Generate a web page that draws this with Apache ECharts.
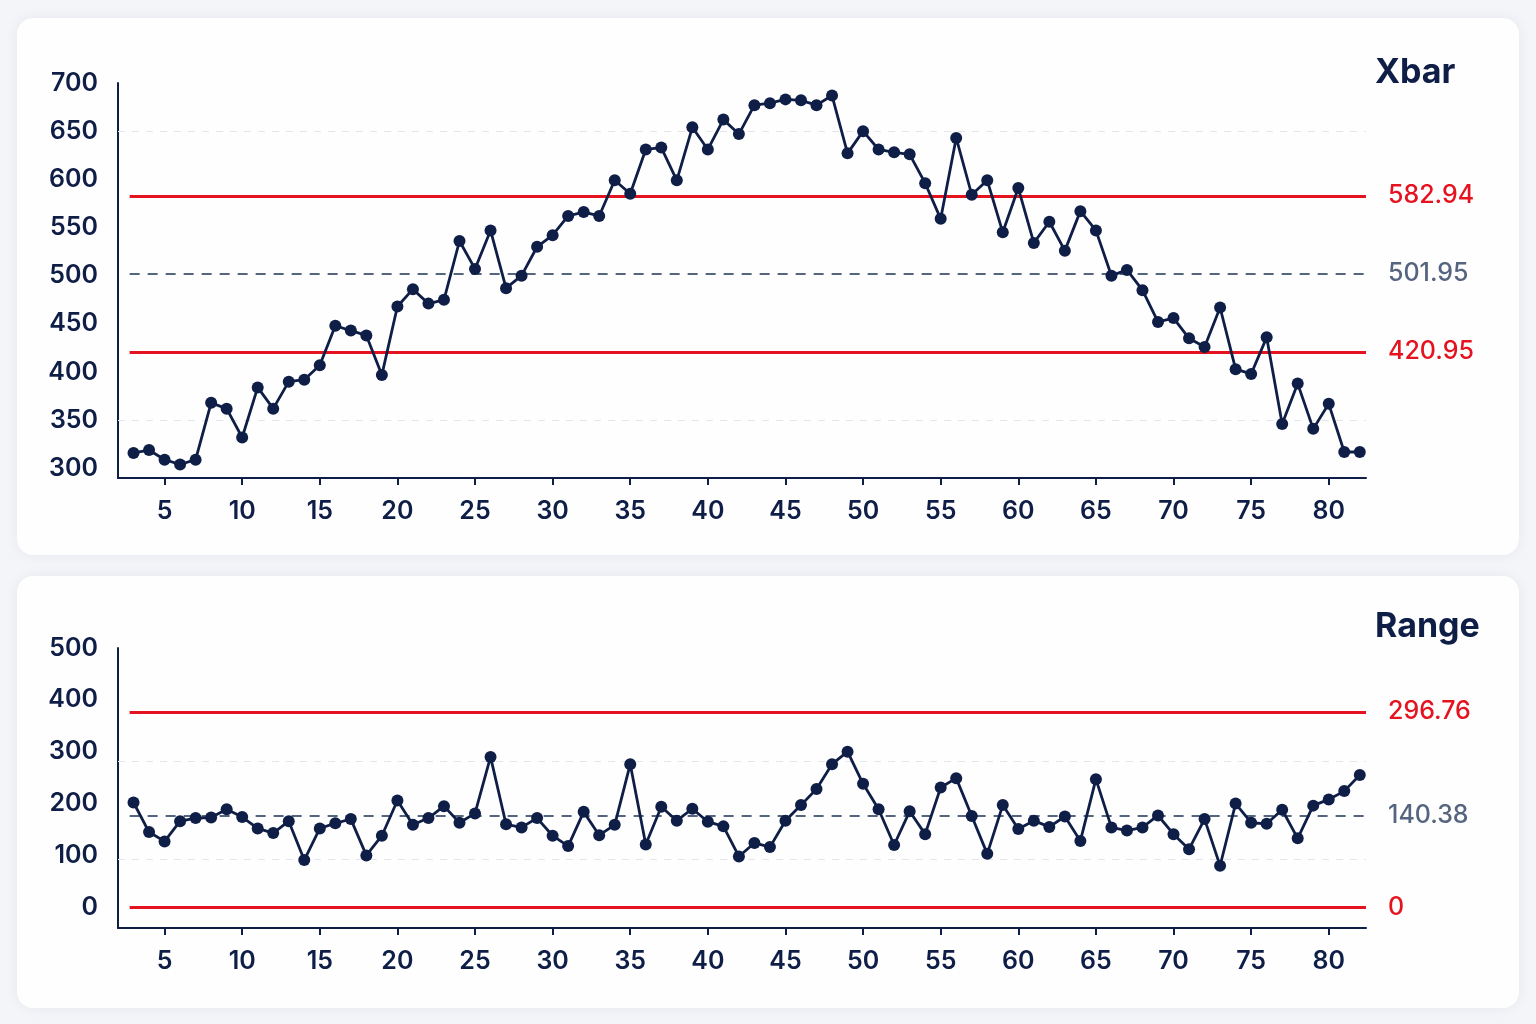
<!DOCTYPE html>
<html>
<head>
<meta charset="utf-8">
<script src="https://cdn.jsdelivr.net/npm/echarts@6/dist/echarts.min.js"></script>
<style>
  html, body { margin: 0; padding: 0; background: #f4f5f8; }
  #chart { width: 1536px; height: 1024px; }
</style>
</head>
<body>
<div id="chart"></div>
<script>
// ---- data ----
const subgroups = [3,4,5,6,7,8,9,10,11,12,13,14,15,16,17,18,19,20,21,22,23,24,25,26,27,28,29,30,31,32,33,34,35,36,37,38,39,40,41,42,43,44,45,46,47,48,49,50,51,52,53,54,55,56,57,58,59,60,61,62,63,64,65,66,67,68,69,70,71,72,73,74,75,76,77,78,79,80,81,82];
const xbarValues = [316,319,309,304,309,368,362,332,384,362,390,392,407,448,443,438,397,468,486,471,475,536,507,547,487,500,530,542,562,566,562,599,585,631,633,599,654,631,662,647,677,679,683,682,677,687,627,650,631,628,626,596,559,643,584,599,545,591,534,556,526,567,547,500,506,485,452,456,435,426,467,403,398,436,346,388,341,367,317,317];
const rangeValues = [202,145,127,166,172,173,189,174,152,143,166,91,152,162,170,100,138,206,159,172,195,163,181,290,160,154,172,138,118,184,139,159,276,121,194,167,190,165,156,98,124,116,167,197,228,276,300,238,189,120,185,141,231,249,176,103,197,151,167,155,175,128,247,154,148,154,177,141,112,170,80,200,163,161,188,133,196,208,224,255];

const xTicks = [5,10,15,20,25,30,35,40,45,50,55,60,65,70,75,80];
const xbarTicks = [300,350,400,450,500,550,600,650,700];
const rangeTicks = [0,100,200,300,400,500];

// control limits: [value drawn, label text, kind]
const xbarLimits = [[582.94,'582.94','limit'],[501.95,'501.95','center'],[420.95,'420.95','limit']];
const rangeLimits = [[376.7,'296.76','limit'],[176.1,'140.38','center'],[0,'0','limit']];
const xbarGrid = [350,650];
const rangeGrid = [282,93];

// ---- style ----
const NAVY = '#0f1e47';
const RED = '#e5121f';
const SLATE = '#56657f';
const FONT = 'Inter, "Noto Sans", sans-serif';
const X_MIN = 2, X_MAX = 82.4, LIMIT_START = 2.75;

function markData(limits, grids) {
  const out = [];
  grids.forEach(v => out.push([
    {xAxis: X_MIN, yAxis: v, lineStyle: {color: '#e2e5ec', width: 1, type: [7, 7]}, label: {show: false}},
    {xAxis: X_MAX, yAxis: v}
  ]));
  limits.forEach(([v, txt, kind]) => {
    const isLim = kind === 'limit';
    out.push([
      {xAxis: LIMIT_START, yAxis: v,
       lineStyle: isLim ? {color: RED, width: 3, type: 'solid'} : {color: SLATE, width: 2, type: [10, 8]},
       label: {show: true, position: 'end', distance: 22, formatter: txt,
               color: isLim ? RED : SLATE, fontSize: 25, fontFamily: FONT, fontWeight: 500}},
      {xAxis: X_MAX, yAxis: v}
    ]);
  });
  return out;
}

function xAxisCfg(gridIndex) {
  return {
    type: 'value', gridIndex, min: X_MIN, max: X_MAX,
    axisLine: {show: true, onZero: false, lineStyle: {color: NAVY, width: 2}},
    axisTick: {show: true, length: 7, lineStyle: {color: NAVY, width: 2}, customValues: xTicks},
    axisLabel: {customValues: xTicks, color: NAVY, fontSize: 25, fontFamily: FONT, fontWeight: 600, margin: 21},
    splitLine: {show: false}
  };
}
function yAxisCfg(gridIndex, min, max, ticks) {
  return {
    type: 'value', gridIndex, min, max,
    axisLine: {show: true, onZero: false, lineStyle: {color: NAVY, width: 2}},
    axisTick: {show: false},
    axisLabel: {customValues: ticks, color: NAVY, fontSize: 25, fontFamily: FONT, fontWeight: 600, margin: 20,
                padding: [5, 0, 0, 0]},
    splitLine: {show: false}
  };
}

const chart = echarts.init(document.getElementById('chart'), null, {renderer: 'canvas'});
chart.setOption({
  backgroundColor: '#f4f5f8',
  animation: false,
  graphic: [
    {type: 'rect', z: -10, shape: {x: 17, y: 18, width: 1502, height: 537, r: 16},
     style: {fill: '#fefefe', shadowBlur: 14, shadowColor: 'rgba(30,40,80,0.06)'}},
    {type: 'rect', z: -10, shape: {x: 17, y: 576, width: 1502, height: 432, r: 16},
     style: {fill: '#fefefe', shadowBlur: 14, shadowColor: 'rgba(30,40,80,0.06)'}}
  ],
  title: [
    {text: 'Xbar', left: 1370, top: 51, textStyle: {color: NAVY, fontSize: 34, fontWeight: 'bold', fontFamily: FONT}},
    {text: 'Range', left: 1370, top: 605, textStyle: {color: NAVY, fontSize: 34, fontWeight: 'bold', fontFamily: FONT}}
  ],
  grid: [
    {left: 118, top: 83, width: 1248, height: 395},
    {left: 118, top: 648, width: 1248, height: 280}
  ],
  xAxis: [xAxisCfg(0), xAxisCfg(1)],
  yAxis: [yAxisCfg(0, 290, 700, xbarTicks), yAxisCfg(1, -40, 500, rangeTicks)],
  series: [
    {
      type: 'line', xAxisIndex: 0, yAxisIndex: 0,
      data: subgroups.map((x, i) => [x, xbarValues[i]]),
      symbol: 'circle', symbolSize: 12,
      lineStyle: {color: NAVY, width: 2.8}, itemStyle: {color: NAVY},
      z: 5,
      markLine: {silent: true, symbol: ['none', 'none'], animation: false, data: markData(xbarLimits, xbarGrid), z: 2}
    },
    {
      type: 'line', xAxisIndex: 1, yAxisIndex: 1,
      data: subgroups.map((x, i) => [x, rangeValues[i]]),
      symbol: 'circle', symbolSize: 12,
      lineStyle: {color: NAVY, width: 2.8}, itemStyle: {color: NAVY},
      z: 5,
      markLine: {silent: true, symbol: ['none', 'none'], animation: false, data: markData(rangeLimits, rangeGrid), z: 2}
    }
  ]
});
</script>
</body>
</html>
